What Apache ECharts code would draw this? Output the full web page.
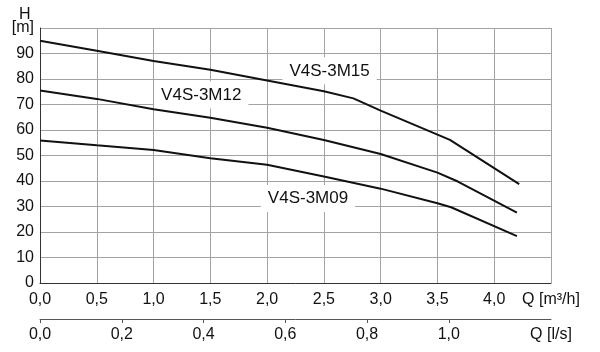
<!DOCTYPE html>
<html>
<head>
<meta charset="UTF-8">
<script src="https://cdn.jsdelivr.net/npm/echarts@6/dist/echarts.min.js"></script>
<title>V4S-3M</title>
<style>
  html, body { margin: 0; padding: 0; background: #fff; }
  #main { width: 600px; height: 352px; }
</style>
</head>
<body>
<div id="main"></div>
<script type="text/javascript">
    // curve data: Q [m3/h] and H [m]
    var q15 = [0, 0.5, 1.0, 1.5, 2.0, 2.5, 2.76, 3.0, 3.61, 4.22];
    var h15 = [95, 91.1, 87.1, 83.6, 79.4, 75.2, 72.4, 67.6, 56.1, 38.8];
    var q12 = [0, 0.5, 1.0, 1.5, 2.0, 2.5, 3.0, 3.5, 3.68, 4.2];
    var h12 = [75.5, 72.2, 68.1, 64.8, 60.9, 56.1, 50.6, 43.3, 39.8, 27.6];
    var q09 = [0, 0.5, 1.0, 1.5, 2.0, 2.5, 3.0, 3.5, 3.62, 4.2];
    var h09 = [55.9, 54.0, 52.2, 48.9, 46.4, 41.8, 37.0, 31.3, 29.7, 18.4];

    var names = ['V4S-3M15', 'V4S-3M12', 'V4S-3M09'];
    // where the curve names sit, in chart units
    var labelQ = [2.55, 1.42, 2.36];
    var labelH = [83.2, 73.7, 33.1];

    var lsTicks = [0, 0.2, 0.4, 0.6, 0.8, 1.0];

    function pairs(qs, hs) {
        var out = [];
        for (var i = 0; i < qs.length; i++) out.push([qs[i], hs[i]]);
        return out;
    }
    function comma(v) { return v.toFixed(1).replace('.', ','); }

    var font = 'Liberation Sans, Arial, sans-serif';
    var ink = '#111';
    var gridColor = '#a3a3a3';

    var myChart = echarts.init(document.getElementById('main'));

    var lineSeries = function (name, data) {
        return {
            name: name,
            type: 'line',
            xAxisIndex: 0,
            yAxisIndex: 0,
            data: data,
            symbol: 'none',
            smooth: false,
            silent: true,
            lineStyle: { color: ink, width: 2 },
            z: 20   // above the white label boxes
        };
    };

    myChart.setOption({
        animation: false,
        backgroundColor: '#fff',
        grid: { left: 40, right: 49, top: 28, bottom: 69 },
        xAxis: [
            {
                type: 'value',
                min: 0, max: 4.5, interval: 0.5,
                position: 'bottom',
                axisLine: { show: true, onZero: false, lineStyle: { color: '#333', width: 1 } },
                axisTick: { show: false },
                splitLine: { show: true, lineStyle: { color: gridColor, width: 1 } },
                axisLabel: {
                    fontFamily: font, fontSize: 16, color: ink, margin: 9,
                    showMaxLabel: true,
                    formatter: function (v) {
                        if (v >= 4.49) return 'Q [m³/h]';
                        return comma(v);
                    }
                }
            },
            {
                type: 'value',
                min: 0, max: 1.25,
                position: 'bottom',
                offset: 36,
                axisLine: { show: true, onZero: false, lineStyle: { color: '#555', width: 1 } },
                axisTick: { show: true, length: 4, customValues: lsTicks, lineStyle: { color: '#555' } },
                splitLine: { show: false },
                axisLabel: {
                    fontFamily: font, fontSize: 16, color: ink, margin: 8,
                    customValues: lsTicks.concat([1.25]),
                    formatter: function (v) {
                        if (v >= 1.24) return 'Q [l/s]';
                        return comma(v);
                    }
                }
            }
        ],
        yAxis: {
            type: 'value',
            min: 0, max: 100, interval: 10,
            axisLine: { show: true, lineStyle: { color: '#333', width: 1 } },
            axisTick: { show: false },
            splitLine: { show: true, lineStyle: { color: gridColor, width: 1 } },
            axisLabel: {
                fontFamily: font, fontSize: 16, color: ink, margin: 6,
                showMaxLabel: true,
                formatter: function (v) { return v === 100 ? '[m]' : String(v); }
            }
        },
        series: [
            lineSeries(names[0], pairs(q15, h15)),
            lineSeries(names[1], pairs(q12, h12)),
            lineSeries(names[2], pairs(q09, h09)),
            // empty series so the second x axis is used
            { type: 'line', xAxisIndex: 1, yAxisIndex: 0, data: [], silent: true }
        ]
    });

    // curve names with white boxes, placed through the axes
    var texts = [{
        type: 'text', left: 19, top: 7, z: 10,
        style: { text: 'H', font: '16px ' + font, fill: ink }
    }];
    for (var i = 0; i < names.length; i++) {
        var p = myChart.convertToPixel({ xAxisIndex: 0, yAxisIndex: 0 }, [labelQ[i], labelH[i]]);
        texts.push({
            type: 'text', x: p[0], y: p[1], z: 10,
            style: {
                text: names[i], font: '17px ' + font, fill: ink,
                align: 'center', verticalAlign: 'middle',
                backgroundColor: '#fff', padding: [5, 7, 5, 7]
            }
        });
    }
    myChart.setOption({ graphic: texts });
</script>
</body>
</html>
